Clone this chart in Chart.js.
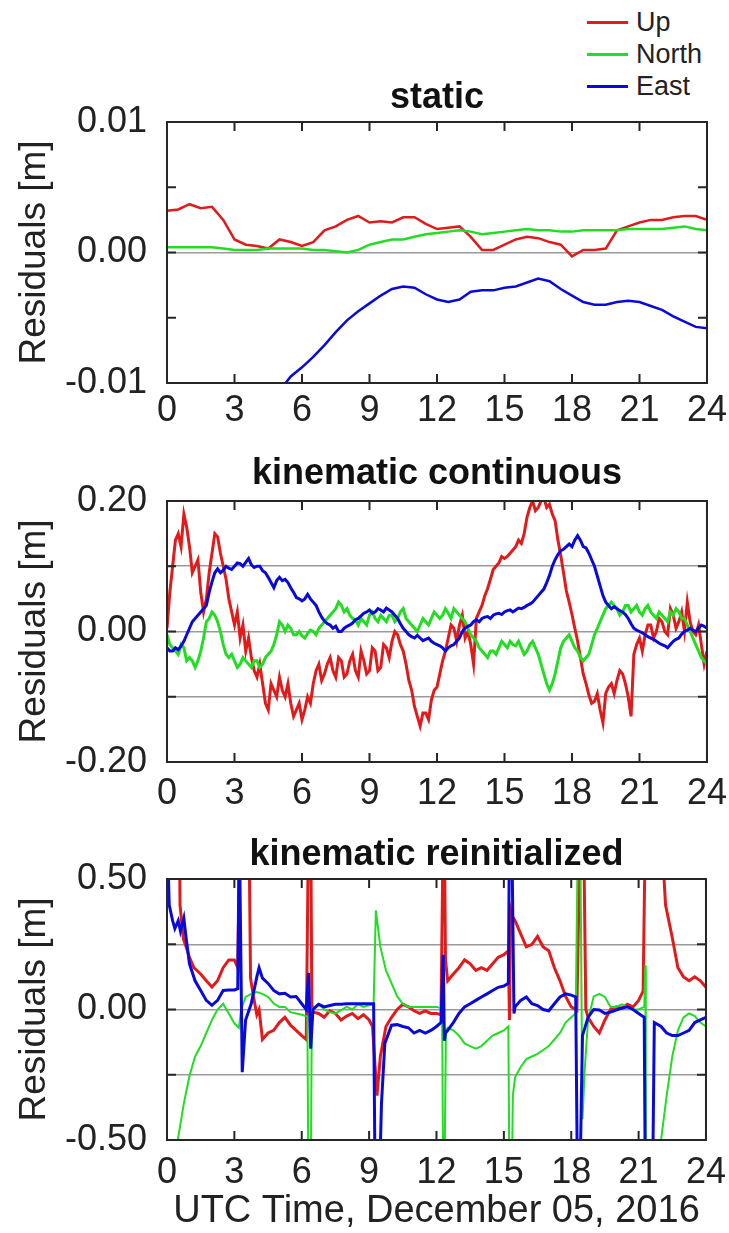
<!DOCTYPE html>
<html>
<head>
<meta charset="utf-8">
<script src="https://cdn.jsdelivr.net/npm/chart.js@4.4.1/dist/chart.umd.min.js"></script>
<style>
  html, body { margin: 0; padding: 0; background: #fff; }
  #wrap { position: relative; width: 729px; height: 1233px; }
  canvas { position: absolute; left: 0; }
  #legend { position: absolute; left: 587px; top: 6px; font-family: "Liberation Sans", Arial, sans-serif; font-size: 27px; color: #222; }
  #legend div { height: 32px; display: flex; align-items: center; }
  #legend span.swatch { display: inline-block; width: 41px; height: 3px; margin-right: 8px; }
</style>
</head>
<body>
<div id="wrap">
  <div id="legend"></div>
  <canvas id="staticChart" width="729" height="440" style="top:0"></canvas>
  <canvas id="continuousChart" width="729" height="385" style="top:425px"></canvas>
  <canvas id="reinitChart" width="729" height="423" style="top:810px"></canvas>
</div>
<script>
// Residuals of the GNSS solution, December 05, 2016

const seriesNames = ['Up', 'North', 'East'];
const seriesColors = ['#e01b1b', '#22dd22', '#0a0ad8'];
const xTicks = [0, 3, 6, 9, 12, 15, 18, 21, 24];

// static (m), every half hour
const halfHours = [0, 0.5, 1, 1.5, 2, 2.5, 3, 3.5, 4, 4.5, 5, 5.5, 6, 6.5, 7, 7.5, 8, 8.5, 9, 9.5,
    10, 10.5, 11, 11.5, 12, 12.5, 13, 13.5, 14, 14.5, 15, 15.5, 16, 16.5, 17, 17.5, 18, 18.5, 19, 19.5,
    20, 20.5, 21, 21.5, 22, 22.5, 23, 23.5, 24];
const staticUp = [0.0032, 0.0033, 0.0037, 0.0034, 0.0035, 0.0025, 0.0010, 0.0006, 0.0005, 0.0003,
    0.0010, 0.0008, 0.0005, 0.0008, 0.0017, 0.0020, 0.0025, 0.0028, 0.0023, 0.0024,
    0.0023, 0.0027, 0.0027, 0.0022, 0.0018, 0.0019, 0.0020, 0.0012, 0.0002, 0.0002,
    0.0006, 0.0010, 0.0012, 0.0011, 0.0008, 0.0006, -0.0003, 0.0002, 0.0002, 0.0003,
    0.0017, 0.0020, 0.0023, 0.0025, 0.0025, 0.0027, 0.0028, 0.0028, 0.0025];
const staticNorth = [0.0004, 0.0004, 0.0004, 0.0004, 0.0004, 0.0003, 0.0002, 0.0002, 0.0002, 0.0003,
    0.0003, 0.0003, 0.0003, 0.0002, 0.0002, 0.0001, 0.0000, 0.0002, 0.0006, 0.0008,
    0.0010, 0.0010, 0.0012, 0.0014, 0.0015, 0.0016, 0.0017, 0.0016, 0.0014, 0.0015,
    0.0016, 0.0017, 0.0018, 0.0017, 0.0017, 0.0016, 0.0016, 0.0017, 0.0017, 0.0017,
    0.0017, 0.0018, 0.0018, 0.0018, 0.0018, 0.0019, 0.0020, 0.0018, 0.0017];
const eastHours = [5, 5.5, 6, 6.5, 7, 7.5, 8, 8.5, 9, 9.5, 10, 10.5, 11, 11.5, 12, 12.5, 13, 13.5,
    14, 14.5, 15, 15.5, 16, 16.5, 17, 17.5, 18, 18.5, 19, 19.5, 20, 20.5, 21, 21.5, 22, 22.5, 23, 23.5, 24];
const staticEast = [-0.0106, -0.0095, -0.0088, -0.0080, -0.0071, -0.0061, -0.0052, -0.0045, -0.0039, -0.0033,
    -0.0028, -0.0026, -0.0027, -0.0032, -0.0036, -0.0038, -0.0036, -0.0030, -0.0029, -0.0029,
    -0.0027, -0.0026, -0.0023, -0.0020, -0.0022, -0.0028, -0.0033, -0.0038, -0.0040, -0.0040,
    -0.0038, -0.0037, -0.0038, -0.0041, -0.0044, -0.0049, -0.0053, -0.0057, -0.0058];

// kinematic continuous (m), every eighth of an hour (one row per hour)
const eighthHours = [
    0, 0.125, 0.25, 0.375, 0.5, 0.625, 0.75, 0.875,
    1, 1.125, 1.25, 1.375, 1.5, 1.625, 1.75, 1.875,
    2, 2.125, 2.25, 2.375, 2.5, 2.625, 2.75, 2.875,
    3, 3.125, 3.25, 3.375, 3.5, 3.625, 3.75, 3.875,
    4, 4.125, 4.25, 4.375, 4.5, 4.625, 4.75, 4.875,
    5, 5.125, 5.25, 5.375, 5.5, 5.625, 5.75, 5.875,
    6, 6.125, 6.25, 6.375, 6.5, 6.625, 6.75, 6.875,
    7, 7.125, 7.25, 7.375, 7.5, 7.625, 7.75, 7.875,
    8, 8.125, 8.25, 8.375, 8.5, 8.625, 8.75, 8.875,
    9, 9.125, 9.25, 9.375, 9.5, 9.625, 9.75, 9.875,
    10, 10.125, 10.25, 10.375, 10.5, 10.625, 10.75, 10.875,
    11, 11.125, 11.25, 11.375, 11.5, 11.625, 11.75, 11.875,
    12, 12.125, 12.25, 12.375, 12.5, 12.625, 12.75, 12.875,
    13, 13.125, 13.25, 13.375, 13.5, 13.625, 13.75, 13.875,
    14, 14.125, 14.25, 14.375, 14.5, 14.625, 14.75, 14.875,
    15, 15.125, 15.25, 15.375, 15.5, 15.625, 15.75, 15.875,
    16, 16.125, 16.25, 16.375, 16.5, 16.625, 16.75, 16.875,
    17, 17.125, 17.25, 17.375, 17.5, 17.625, 17.75, 17.875,
    18, 18.125, 18.25, 18.375, 18.5, 18.625, 18.75, 18.875,
    19, 19.125, 19.25, 19.375, 19.5, 19.625, 19.75, 19.875,
    20, 20.125, 20.25, 20.375, 20.5, 20.625, 20.75, 20.875,
    21, 21.125, 21.25, 21.375, 21.5, 21.625, 21.75, 21.875,
    22, 22.125, 22.25, 22.375, 22.5, 22.625, 22.75, 22.875,
    23, 23.125, 23.25, 23.375, 23.5, 23.625, 23.75, 23.875,
    24];
const contUp = [
    0.005, 0.06, 0.10, 0.14, 0.15, 0.13, 0.18, 0.16,
    0.13, 0.09, 0.10, 0.11, 0.06, 0.03, 0.05, 0.09,
    0.12, 0.15, 0.145, 0.12, 0.10, 0.08, 0.05, 0.03,
    0.01, 0.03, -0.01, 0.01, -0.03, -0.01, -0.04, -0.06,
    -0.07, -0.05, -0.08, -0.11, -0.12, -0.08, -0.09, -0.10,
    -0.07, -0.09, -0.10, -0.08, -0.11, -0.13, -0.12, -0.11,
    -0.135, -0.12, -0.10, -0.11, -0.08, -0.06, -0.05, -0.075,
    -0.065, -0.05, -0.04, -0.06, -0.07, -0.04, -0.045, -0.07,
    -0.065, -0.045, -0.035, -0.06, -0.07, -0.03, -0.045, -0.065,
    -0.06, -0.025, -0.03, -0.06, -0.055, -0.02, -0.025, -0.04,
    -0.015, 0.0, -0.005, -0.02, -0.03, -0.05, -0.075, -0.09,
    -0.115, -0.13, -0.145, -0.125, -0.125, -0.135, -0.105, -0.09,
    -0.085, -0.065, -0.045, -0.03, -0.01, 0.01, 0.005, -0.015,
    0.01, 0.025, -0.01, 0.0, -0.02, -0.05, 0.02, 0.03,
    0.04, 0.055, 0.066, 0.08, 0.095, 0.10, 0.105, 0.115,
    0.112, 0.115, 0.12, 0.125, 0.13, 0.14, 0.135, 0.15,
    0.175, 0.19, 0.20, 0.185, 0.19, 0.20, 0.205, 0.19,
    0.195, 0.18, 0.17, 0.14, 0.117, 0.09, 0.062, 0.045,
    0.026, 0.005, -0.015, -0.04, -0.065, -0.08, -0.097, -0.11,
    -0.107, -0.095, -0.12, -0.14, -0.095, -0.085, -0.08, -0.095,
    -0.075, -0.06, -0.065, -0.08, -0.10, -0.13, -0.035, -0.02,
    -0.01, -0.03, -0.005, 0.01, 0.01, -0.01, 0.0, 0.02,
    0.015, 0.0, -0.005, 0.035, 0.025, 0.005, 0.015, 0.03,
    0.0, 0.045, 0.015, 0.0, -0.005, 0.01, -0.02, -0.05,
    -0.03];
const contNorth = [
    -0.005, -0.02, -0.025, -0.03, -0.035, -0.02, -0.025, -0.045,
    -0.04, -0.045, -0.055, -0.045, -0.03, -0.01, 0.015, 0.02,
    0.03, 0.025, 0.015, 0.0, -0.02, -0.035, -0.04, -0.035,
    -0.045, -0.055, -0.05, -0.04, -0.045, -0.05, -0.055, -0.045,
    -0.045, -0.055, -0.05, -0.04, -0.035, -0.03, -0.02, -0.005,
    0.015, 0.01, 0.0, 0.01, 0.005, -0.005, -0.005, 0.0,
    -0.007, -0.01, -0.003, 0.002, 0.0, -0.005, 0.005, 0.01,
    0.015, 0.02, 0.025, 0.03, 0.035, 0.045, 0.04, 0.03,
    0.035, 0.025, 0.02, 0.018, 0.01, 0.02, 0.015, 0.01,
    0.025, 0.03, 0.02, 0.015, 0.025, 0.02, 0.015, 0.025,
    0.025, 0.015, 0.02, 0.03, 0.035, 0.02, 0.015, 0.01,
    0.005, 0.0, 0.01, 0.02, 0.015, 0.01, 0.02, 0.03,
    0.025, 0.02, 0.025, 0.035, 0.028, 0.02, 0.035, 0.03,
    0.025, 0.02, 0.015, 0.005, -0.005, -0.01, -0.015, -0.025,
    -0.03, -0.035, -0.04, -0.03, -0.03, -0.035, -0.025, -0.015,
    -0.02, -0.025, -0.015, -0.02, -0.022, -0.015, -0.025, -0.035,
    -0.03, -0.02, -0.015, -0.025, -0.035, -0.05, -0.065, -0.08,
    -0.09, -0.08, -0.065, -0.045, -0.025, -0.015, -0.01, -0.005,
    -0.015, -0.025, -0.03, -0.04, -0.045, -0.04, -0.035, -0.02,
    -0.005, 0.005, 0.015, 0.025, 0.035, 0.04, 0.045, 0.04,
    0.035, 0.025, 0.03, 0.04, 0.04, 0.03, 0.035, 0.04,
    0.03, 0.025, 0.035, 0.04, 0.03, 0.025, 0.02, 0.03,
    0.025, 0.02, 0.015, 0.03, 0.025, 0.035, 0.03, 0.02,
    0.02, 0.01, 0.0, -0.01, -0.02, -0.03, -0.04, -0.045,
    -0.05];
const contEast = [
    -0.025, -0.03, -0.03, -0.025, -0.028, -0.022, -0.015, -0.005,
    0.005, 0.015, 0.02, 0.025, 0.03, 0.035, 0.04, 0.06,
    0.076, 0.09, 0.096, 0.09, 0.094, 0.10, 0.097, 0.095,
    0.10, 0.105, 0.104, 0.10, 0.106, 0.112, 0.102, 0.098,
    0.10, 0.10, 0.093, 0.09, 0.083, 0.075, 0.067, 0.078,
    0.083, 0.078, 0.08, 0.075, 0.067, 0.06, 0.052, 0.05,
    0.047, 0.05, 0.057, 0.05, 0.045, 0.04, 0.03, 0.022,
    0.016, 0.012, 0.01, 0.005, 0.008, 0.0, 0.0, 0.005,
    0.008, 0.01, 0.013, 0.018, 0.02, 0.024, 0.028, 0.03,
    0.033, 0.028, 0.03, 0.035, 0.033, 0.03, 0.036, 0.033,
    0.03, 0.025, 0.02, 0.012, 0.005, 0.0, -0.005, -0.008,
    -0.01, -0.006, -0.01, -0.014, -0.012, -0.01, -0.015, -0.018,
    -0.02, -0.022, -0.025, -0.03, -0.025, -0.022, -0.02, -0.015,
    -0.01, 0.0, 0.005, 0.008, 0.01, 0.015, 0.018, 0.015,
    0.02, 0.022, 0.023, 0.02, 0.025, 0.027, 0.028, 0.026,
    0.03, 0.032, 0.033, 0.03, 0.033, 0.036, 0.035, 0.037,
    0.04, 0.042, 0.045, 0.05, 0.055, 0.06, 0.065, 0.075,
    0.086, 0.10, 0.11, 0.118, 0.124, 0.126, 0.13, 0.134,
    0.13, 0.14, 0.147, 0.14, 0.13, 0.128, 0.12, 0.11,
    0.10, 0.085, 0.07, 0.055, 0.045, 0.04, 0.035, 0.038,
    0.035, 0.032, 0.03, 0.026, 0.02, 0.012, 0.005, 0.002,
    0.0, -0.002, -0.005, -0.008, -0.01, -0.012, -0.015, -0.018,
    -0.02, -0.022, -0.025, -0.02, -0.015, -0.012, -0.01, -0.004,
    0.0, 0.002, 0.005, 0.002, 0.0, 0.005, 0.01, 0.008,
    0.005];

// kinematic reinitialized (m), [hour, residual]; values beyond +-0.5 run off the plot
const reinitUp = [
    [0.05, 0.7], [0.55, 0.7], [0.58, 0.40], [0.73, 0.27], [0.85, 0.24], [1.0, 0.20], [1.2, 0.16],
    [1.5, 0.136], [1.75, 0.11], [2.0, 0.086], [2.25, 0.11], [2.5, 0.16], [2.75, 0.19], [3.0, 0.19],
    [3.15, 0.16], [3.25, 0.7], [3.65, 0.7], [3.72, 0.12], [3.85, 0.05], [4.0, -0.02], [4.1, 0.0],
    [4.25, -0.115], [4.5, -0.09], [4.75, -0.08], [5.0, -0.05], [5.25, -0.03], [5.5, -0.06],
    [5.75, -0.08], [6.0, -0.10], [6.2, -0.115], [6.3, 0.7], [6.4, 0.7], [6.45, 0.02], [6.5, -0.01],
    [6.75, -0.015], [7.0, -0.03], [7.25, -0.005], [7.5, -0.015], [7.75, -0.04], [8.0, -0.025],
    [8.25, -0.015], [8.5, -0.035], [8.75, -0.02], [9.0, -0.04], [9.15, -0.065], [9.35, -0.33],
    [9.5, -0.18], [9.75, -0.065], [10.0, -0.03], [10.25, 0.0], [10.5, 0.02], [10.75, 0.01],
    [11.0, -0.005], [11.25, -0.015], [11.5, -0.005], [11.75, -0.015], [12.0, -0.015], [12.2, -0.02],
    [12.3, 0.7], [12.35, 0.7], [12.4, 0.19], [12.5, 0.11], [12.75, 0.136], [13.0, 0.16], [13.25, 0.19],
    [13.5, 0.175], [13.75, 0.15], [14.0, 0.16], [14.25, 0.15], [14.5, 0.175], [14.75, 0.2], [15.0, 0.21],
    [15.2, 0.225], [15.25, -0.04], [15.3, 0.38], [15.35, 0.36], [15.5, 0.34], [15.75, 0.29], [16.0, 0.24],
    [16.25, 0.25], [16.5, 0.28], [16.75, 0.24], [17.0, 0.225], [17.25, 0.16], [17.5, 0.11], [17.75, 0.05],
    [18.0, 0.01], [18.25, -0.003], [18.4, 0.7], [18.55, 0.7], [18.65, 0.0], [18.75, -0.03], [19.0, -0.065],
    [19.25, -0.09], [19.5, -0.04], [19.75, 0.0], [20.0, 0.01], [20.25, 0.005], [20.5, 0.02], [20.75, 0.01],
    [21.0, 0.035], [21.2, 0.07], [21.3, 0.7], [22.0, 0.7], [22.2, 0.4], [22.5, 0.275], [22.75, 0.16],
    [23.0, 0.125], [23.25, 0.11], [23.5, 0.125], [23.75, 0.11], [24.0, 0.085]];
const reinitNorth = [
    [0.0, -0.7], [0.4, -0.55], [0.5, -0.49], [0.75, -0.36], [1.0, -0.255], [1.25, -0.18], [1.5, -0.14],
    [1.75, -0.09], [2.0, -0.04], [2.25, 0.0], [2.5, 0.022], [2.75, -0.015], [3.0, -0.053], [3.2, -0.07],
    [3.3, 0.0], [3.5, 0.048], [3.75, 0.06], [4.0, 0.067], [4.25, 0.06], [4.5, 0.048], [4.75, 0.023],
    [5.0, 0.01], [5.25, 0.01], [5.5, -0.01], [5.75, -0.015], [6.0, -0.02], [6.25, -0.027], [6.3, -0.7],
    [6.4, -0.7], [6.45, 0.0], [6.75, 0.022], [7.0, 0.0], [7.25, -0.01], [7.5, -0.015], [7.75, -0.002],
    [8.0, 0.01], [8.25, 0.0], [8.5, 0.02], [8.75, 0.01], [9.0, 0.016], [9.2, 0.02], [9.3, 0.38],
    [9.5, 0.24], [9.75, 0.15], [10.0, 0.1], [10.25, 0.05], [10.5, 0.022], [10.75, 0.01], [11.0, 0.01],
    [11.5, 0.01], [12.0, 0.01], [12.25, 0.005], [12.3, -0.7], [12.35, -0.7], [12.42, -0.08], [12.5, -0.07],
    [12.75, -0.08], [13.0, -0.10], [13.25, -0.13], [13.5, -0.14], [13.75, -0.15], [14.0, -0.14],
    [14.25, -0.12], [14.5, -0.10], [14.75, -0.09], [15.0, -0.08], [15.2, -0.065], [15.25, -0.7],
    [15.35, -0.7], [15.4, -0.33], [15.5, -0.26], [15.75, -0.22], [16.0, -0.19], [16.25, -0.18],
    [16.5, -0.17], [16.75, -0.155], [17.0, -0.14], [17.25, -0.115], [17.5, -0.09], [17.75, -0.05],
    [18.0, -0.03], [18.2, -0.015], [18.3, 0.7], [18.4, 0.7], [18.5, -0.42], [18.6, -0.23], [18.75, -0.04],
    [19.0, 0.05], [19.25, 0.06], [19.5, 0.048], [19.75, 0.01], [20.0, 0.01], [20.25, 0.02], [20.5, 0.01],
    [20.75, 0.0], [21.0, 0.0], [21.25, 0.01], [21.3, 0.17], [21.32, -0.7], [21.95, -0.6], [22.0, -0.5],
    [22.25, -0.33], [22.5, -0.18], [22.75, -0.08], [23.0, -0.03], [23.25, -0.015], [23.5, -0.025],
    [23.75, -0.05], [24.0, -0.065]];
const reinitEast = [
    [0.0, 0.7], [0.1, 0.4], [0.25, 0.34], [0.35, 0.31], [0.5, 0.34], [0.6, 0.30], [0.75, 0.35],
    [0.85, 0.275], [1.0, 0.175], [1.25, 0.11], [1.5, 0.073], [1.75, 0.035], [2.0, 0.016], [2.25, 0.035],
    [2.5, 0.073], [2.75, 0.075], [3.0, 0.075], [3.15, 0.08], [3.22, 0.7], [3.35, -0.24], [3.5, -0.04],
    [3.75, 0.022], [4.0, 0.125], [4.1, 0.16], [4.25, 0.12], [4.5, 0.10], [4.75, 0.073], [5.0, 0.06],
    [5.25, 0.062], [5.5, 0.048], [5.75, 0.05], [6.0, 0.022], [6.2, 0.0], [6.3, 0.14], [6.4, -0.15],
    [6.5, 0.0], [6.75, 0.02], [7.0, 0.01], [7.25, 0.015], [7.5, 0.02], [7.75, 0.02], [8.0, 0.022],
    [8.5, 0.022], [9.0, 0.022], [9.2, 0.022], [9.27, -0.7], [9.45, -0.7], [9.55, -0.36], [9.7, -0.13],
    [10.0, -0.06], [10.25, -0.058], [10.5, -0.065], [10.75, -0.07], [11.0, -0.09], [11.25, -0.08],
    [11.5, -0.09], [11.75, -0.08], [12.0, -0.065], [12.2, -0.05], [12.3, 0.21], [12.35, -0.12],
    [12.4, -0.09], [12.5, -0.08], [12.75, -0.05], [13.0, -0.015], [13.25, 0.01], [13.5, 0.022],
    [13.75, 0.035], [14.0, 0.048], [14.25, 0.06], [14.5, 0.073], [14.75, 0.085], [15.0, 0.09],
    [15.2, 0.10], [15.25, 0.7], [15.35, 0.7], [15.45, -0.015], [15.5, 0.01], [15.75, 0.035], [16.0, 0.048],
    [16.25, 0.022], [16.5, 0.015], [16.75, 0.0], [17.0, -0.005], [17.25, 0.022], [17.5, 0.048],
    [17.75, 0.06], [18.0, 0.055], [18.2, 0.048], [18.28, -0.7], [18.38, -0.7], [18.5, -0.1], [18.75, -0.03],
    [19.0, 0.0], [19.25, -0.002], [19.5, -0.015], [19.75, -0.01], [20.0, -0.002], [20.25, 0.005],
    [20.5, 0.01], [20.75, 0.0], [21.0, -0.015], [21.25, -0.03], [21.3, -0.7], [21.62, -0.7], [21.7, -0.05],
    [22.0, -0.065], [22.25, -0.09], [22.5, -0.1], [22.75, -0.1], [23.0, -0.09], [23.25, -0.08],
    [23.5, -0.05], [23.75, -0.04], [24.0, -0.03]];

const FONT = '"Liberation Sans", Arial, sans-serif';
const INK = '#222';

function toXY(hours, values) {
    return hours.map((h, i) => ({ x: h, y: values[i] }));
}
function pairsToXY(pairs) {
    return pairs.map(p => ({ x: p[0], y: p[1] }));
}

// box round the plot with MATLAB-like inward tick marks
const framePlugin = {
    id: 'frame',
    afterDraw(chart) {
        const { ctx, chartArea: a, scales } = chart;
        ctx.save();
        ctx.strokeStyle = '#262626';
        ctx.lineWidth = 2;
        ctx.beginPath();
        scales.x.ticks.forEach(t => {
            const px = scales.x.getPixelForValue(t.value);
            ctx.moveTo(px, a.bottom); ctx.lineTo(px, a.bottom - 9);
            ctx.moveTo(px, a.top); ctx.lineTo(px, a.top + 9);
        });
        scales.y.ticks.forEach(t => {
            const py = scales.y.getPixelForValue(t.value);
            ctx.moveTo(a.left, py); ctx.lineTo(a.left + 9, py);
            ctx.moveTo(a.right, py); ctx.lineTo(a.right - 9, py);
        });
        ctx.stroke();
        ctx.strokeRect(a.left, a.top, a.right - a.left, a.bottom - a.top);
        ctx.restore();
    }
};

function makeChart(canvasId, opts) {
    const ctx = document.getElementById(canvasId).getContext('2d');
    const canvasHeight = ctx.canvas.height;
    const lim = opts.limit;
    return new Chart(ctx, {
        type: 'line',
        data: {
            datasets: opts.series.map((data, i) => ({
                label: seriesNames[i],
                data: data,
                borderColor: seriesColors[i],
                borderWidth: opts.widths[i],
                pointRadius: 0,
                tension: 0,
                order: 3 - i
            }))
        },
        options: {
            responsive: false,
            animation: false,
            events: [],
            layout: { padding: { left: 0, right: 22, top: 0, bottom: 0 } },
            scales: {
                x: {
                    type: 'linear',
                    min: 0,
                    max: 24,
                    afterBuildTicks: scale => { scale.ticks = xTicks.map(v => ({ value: v })); },
                    afterFit: scale => { scale.height = canvasHeight - opts.plotBottom; },
                    grid: { display: false },
                    border: { display: false },
                    ticks: {
                        autoSkip: false,
                        maxRotation: 0,
                        padding: opts.xTickPadding,
                        color: INK,
                        font: { family: FONT, size: 36, lineHeight: 1.2 }
                    },
                    title: {
                        display: !!opts.xTitle,
                        text: opts.xTitle || '',
                        color: INK,
                        padding: { top: 0, bottom: 2 },
                        font: { family: FONT, size: 38, lineHeight: 1.0 }
                    }
                },
                y: {
                    min: -lim,
                    max: lim,
                    afterFit: scale => { scale.width = 167; },
                    border: { display: false },
                    grid: {
                        drawTicks: false,
                        lineWidth: 1.5,
                        color: c => {
                            const v = c.tick.value;
                            if (Math.abs(Math.abs(v) - lim) < 1e-9) return 'rgba(0,0,0,0)';
                            if (opts.zeroOnly && Math.abs(v) > 1e-9) return 'rgba(0,0,0,0)';
                            return '#9a9a9a';
                        }
                    },
                    ticks: {
                        stepSize: lim / 2,
                        padding: 20,
                        color: INK,
                        font: { family: FONT, size: 36, lineHeight: 1.2 },
                        callback: v => {
                            if (Math.abs(v) < 1e-9) return '0.00';
                            if (Math.abs(Math.abs(v) - lim) < 1e-9) return v.toFixed(2);
                            return '';
                        }
                    },
                    title: {
                        display: true,
                        text: 'Residuals [m]',
                        color: INK,
                        padding: { top: 13, bottom: 0 },
                        font: { family: FONT, size: 37, lineHeight: 1.2 }
                    }
                }
            },
            plugins: {
                legend: { display: false },
                tooltip: { enabled: false },
                title: {
                    display: true,
                    text: opts.title,
                    fullSize: false,
                    color: '#111',
                    padding: opts.titlePadding,
                    font: { family: FONT, size: 36, weight: 'bold', lineHeight: 1.0 }
                }
            }
        },
        plugins: [framePlugin]
    });
}

makeChart('staticChart', {
    title: 'static',
    titlePadding: { top: 80, bottom: 6 },
    plotBottom: 383,
    xTickPadding: -2,
    limit: 0.01,
    zeroOnly: true,
    widths: [2.5, 2.5, 2.5],
    series: [toXY(halfHours, staticUp), toXY(halfHours, staticNorth), toXY(eastHours, staticEast)]
});

makeChart('continuousChart', {
    title: 'kinematic continuous',
    titlePadding: { top: 31, bottom: 9 },
    plotBottom: 337,
    xTickPadding: 2,
    limit: 0.2,
    widths: [3, 3, 3],
    series: [toXY(eighthHours, contUp), toXY(eighthHours, contNorth), toXY(eighthHours, contEast)]
});

makeChart('reinitChart', {
    title: 'kinematic reinitialized',
    titlePadding: { top: 27, bottom: 6 },
    plotBottom: 330,
    xTickPadding: 3,
    limit: 0.5,
    widths: [3, 2, 3],
    xTitle: 'UTC Time, December 05, 2016',
    series: [pairsToXY(reinitUp), pairsToXY(reinitNorth), pairsToXY(reinitEast)]
});

// legend for all three panels, top right of the figure
const legendBox = document.getElementById('legend');
seriesNames.forEach((name, i) => {
    const row = document.createElement('div');
    const swatch = document.createElement('span');
    swatch.className = 'swatch';
    swatch.style.background = seriesColors[i];
    row.appendChild(swatch);
    row.appendChild(document.createTextNode(name));
    legendBox.appendChild(row);
});
</script>
</body>
</html>
